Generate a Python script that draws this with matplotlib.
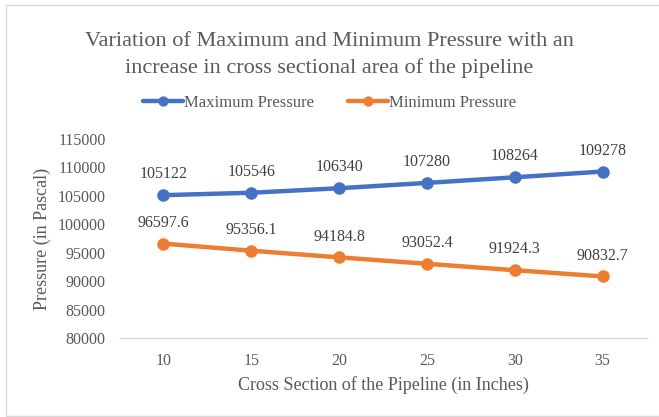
import matplotlib
matplotlib.use("Agg")
import matplotlib.pyplot as plt
from matplotlib.patches import Rectangle

# Pipeline cross section (inches) and pressures (Pa)
cross_section = [10, 15, 20, 25, 30, 35]
max_pressure = [105122, 105546, 106340, 107280, 108264, 109278]
min_pressure = [96597.6, 95356.1, 94184.8, 93052.4, 91924.3, 90832.7]
max_labels = ["105122", "105546", "106340", "107280", "108264", "109278"]
min_labels = ["96597.6", "95356.1", "94184.8", "93052.4", "91924.3", "90832.7"]
y_ticks = [80000, 85000, 90000, 95000, 100000, 105000, 110000, 115000]

BLUE = "#4472C4"
ORANGE = "#ED7D31"
TEXT = "#595959"

plt.rcParams["font.family"] = ["Liberation Serif", "DejaVu Serif"]

W, H = 659, 417
fig = plt.figure(figsize=(W / 100, H / 100), dpi=100)
fig.patch.set_facecolor("white")

# chart frame (right edge runs off the canvas)
fig.add_artist(Rectangle((6 / W, 1 / H), (W) / W, (H - 6) / H,
                         transform=fig.transFigure, fill=False,
                         edgecolor="#d9d9d9", linewidth=1.0))

ax = fig.add_axes([119.5 / W, 1 - 338 / H, 527 / W, (338 - 139) / H])
pos = list(range(len(cross_section)))

ax.plot(pos, max_pressure, color=BLUE, lw=3.2, marker="o", ms=8,
        solid_capstyle="round", label="Maximum Pressure", zorder=3)
ax.plot(pos, min_pressure, color=ORANGE, lw=3.2, marker="o", ms=8,
        solid_capstyle="round", label="Minimum Pressure", zorder=3)

for x, y, t in zip(pos, max_pressure, max_labels):
    ax.annotate(t, (x, y), xytext=(0, 15), textcoords="offset points",
                ha="center", va="center", fontsize=11.5, color="#404040")
for x, y, t in zip(pos, min_pressure, min_labels):
    ax.annotate(t, (x, y), xytext=(0, 15), textcoords="offset points",
                ha="center", va="center", fontsize=11.5, color="#404040")

ax.set_xlim(-0.5, len(pos) - 0.5)
ax.set_ylim(80000, 115000)
ax.set_xticks(pos)
ax.set_xticklabels([str(c) for c in cross_section])
ax.set_yticks(y_ticks)
ax.set_yticklabels([str(v) for v in y_ticks])
ax.tick_params(axis="both", length=0, labelsize=11.5, labelcolor=TEXT)
ax.tick_params(axis="y", pad=10)
ax.tick_params(axis="x", pad=11)

for side in ("top", "right", "left"):
    ax.spines[side].set_visible(False)
ax.spines["bottom"].set_color("#d9d9d9")
ax.spines["bottom"].set_linewidth(1.0)

ax.set_xlabel("Cross Section of the Pipeline (in Inches)", fontsize=13,
              color=TEXT, labelpad=5)
ax.set_ylabel("Pressure (in Pascal)", fontsize=13, color=TEXT, labelpad=5)

fig.text(0.5, 1 - 55 / H,
         "Variation of Maximum and Minimum Pressure with an\n"
         "increase in cross sectional area of the pipeline",
         ha="center", va="center", fontsize=16, color=TEXT, linespacing=1.45)

fig.legend(loc="center", bbox_to_anchor=(0.5, 1 - 103 / H), ncol=2,
           frameon=False, fontsize=12, labelcolor=TEXT, handlelength=2.4,
           handletextpad=0.1, columnspacing=2.0, markerscale=0.8)

fig.savefig("out.png", dpi=100, facecolor="white")
